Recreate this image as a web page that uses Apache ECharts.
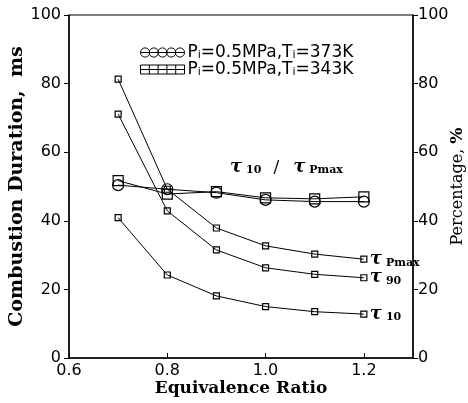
<!DOCTYPE html>
<html>
<head>
<meta charset="utf-8">
<script src="https://cdn.jsdelivr.net/npm/echarts@6/dist/echarts.min.js"></script>
<style>
  html, body { margin: 0; padding: 0; background: #fff; }
  #chart { width: 468px; height: 403px; }
</style>
</head>
<body>
<div id="chart"></div>
<script>
// Equivalence ratios at which the runs were made
const equivRatio = [0.7, 0.8, 0.9, 1.0, 1.1, 1.2];

// Combustion durations, ms (left axis)
const tauPmax = [81.3, 49.2, 37.9, 32.7, 30.3, 28.8];
const tau90   = [71.1, 42.9, 31.5, 26.3, 24.4, 23.4];
const tau10   = [40.9, 24.2, 18.1, 15.0, 13.5, 12.8];

// tau10 / tauPmax, % (right axis)
const ratio373K = [50.4, 49.2, 48.2, 46.1, 45.6, 45.6];
const ratio343K = [51.7, 47.8, 48.5, 46.7, 46.4, 47.0];

// Legend entries
const legend373 = 'P_i=0.5MPa,T_i=373K';
const legend343 = 'P_i=0.5MPa,T_i=343K';

const pairs = vals => equivRatio.map((x, i) => [x, vals[i]]);

const SERIF = '"DejaVu Serif", "Liberation Serif", serif';
const SANS = '"DejaVu Sans", "Liberation Sans", sans-serif';

// Icons for the legend: a row of open circles / boxes strung on a line
const circleRow = (() => {
  const r = 4.6;
  let d = 'M0,5L44,5';
  [4.6, 13.3, 22, 30.7, 39.4].forEach(cx => {
    d += `M${cx - r},5A${r},${r} 0 1 0 ${cx + r},5A${r},${r} 0 1 0 ${cx - r},5Z`;
  });
  return 'path://' + d;
})();
const boxRow = 'path://M0,0.5L44,0.5L44,9.5L0,9.5ZM0,5L44,5M8.8,0.5L8.8,9.5M17.6,0.5L17.6,9.5M26.4,0.5L26.4,9.5M35.2,0.5L35.2,9.5';

const tauRich = {
  t: { fontFamily: SERIF, fontStyle: 'italic', fontWeight: 'bold', fontSize: 18, color: '#000', verticalAlign: 'bottom', lineHeight: 18 },
  s: { fontFamily: SERIF, fontWeight: 'bold', fontSize: 11, color: '#000', verticalAlign: 'bottom', lineHeight: 14, padding: [0, 0, 0, 4] },
  sl: { fontFamily: SERIF, fontSize: 17, color: '#000', verticalAlign: 'bottom', lineHeight: 18, padding: [0, 14, 0, 12] }
};

const durationSeries = (name, vals) => ({
  name,
  type: 'line',
  yAxisIndex: 0,
  data: pairs(vals),
  symbol: 'rect',
  symbolSize: 6,
  lineStyle: { color: '#000', width: 1 },
  itemStyle: { color: 'rgba(0,0,0,0)', borderColor: '#000', borderWidth: 1.2 },
  emphasis: { disabled: true },
  endLabel: {
    show: true,
    distance: 6,
    formatter: name,
    rich: tauRich
  },
  z: 3
});

const ratioSeries = (name, vals, symbol, size) => ({
  name,
  type: 'line',
  yAxisIndex: 1,
  data: pairs(vals),
  symbol,
  symbolSize: size,
  lineStyle: { color: '#000', width: 1 },
  itemStyle: { color: 'rgba(0,0,0,0)', borderColor: '#000', borderWidth: 1.2 },
  emphasis: { disabled: true },
  z: 4
});

const chart = echarts.init(document.getElementById('chart'));
chart.setOption({
  animation: false,
  backgroundColor: '#fff',
  grid: {
    left: 69, right: 55, top: 15, bottom: 45,
    outerBoundsMode: 'none',
    containLabel: false,
    show: true, borderColor: '#000', borderWidth: 1
  },
  legend: {
    orient: 'vertical',
    left: 135,
    top: 39,
    itemWidth: 44,
    itemHeight: 10,
    itemGap: 0,
    selectedMode: false,
    itemStyle: { color: 'rgba(0,0,0,0)', borderColor: '#000', borderWidth: 1 },
    data: [
      { name: legend373, icon: circleRow },
      { name: legend343, icon: boxRow }
    ],
    formatter: n => n.replace(/_i/g, '{sub|i}'),
    textStyle: {
      fontFamily: SANS, fontSize: 17, color: '#000', lineHeight: 16, padding: [0, 0, 0, -2],
      rich: {
        sub: { fontFamily: SANS, fontSize: 11, color: '#000', verticalAlign: 'bottom', lineHeight: 13 }
      }
    }
  },
  xAxis: {
    type: 'value',
    min: 0.6, max: 1.3, interval: 0.2,
    name: 'Equivalence Ratio',
    nameLocation: 'middle',
    nameGap: 22,
    nameMoveOverlap: false,
    nameTextStyle: { fontFamily: SERIF, fontWeight: 'bold', fontSize: 17, color: '#000' },
    axisLine: { lineStyle: { color: '#000', width: 1.5 } },
    axisTick: { inside: true, length: 5, lineStyle: { color: '#000', width: 1 } },
    axisLabel: {
      color: '#000', fontFamily: SANS, fontSize: 16, margin: 5,
      showMaxLabel: false,
      formatter: v => v.toFixed(1)
    },
    splitLine: { show: false }
  },
  yAxis: [
    {
      type: 'value',
      min: 0, max: 100, interval: 20,
      name: 'Combustion Duration,  ms',
      nameLocation: 'middle',
      nameGap: 42,
      nameMoveOverlap: false,
      nameTextStyle: { fontFamily: SERIF, fontWeight: 'bold', fontSize: 19, color: '#000' },
      axisLine: { show: true, lineStyle: { color: '#000', width: 1.5 } },
      axisTick: { show: true, length: 5, lineStyle: { color: '#000', width: 1 } },
      axisLabel: { color: '#000', fontFamily: SANS, fontSize: 16, margin: 8 },
      splitLine: { show: false }
    },
    {
      type: 'value',
      position: 'right',
      min: 0, max: 100, interval: 20,
      name: '{n|Percentage, }{b|%}',
      nameLocation: 'middle',
      nameRotate: 90,
      nameGap: 36,
      nameMoveOverlap: false,
      nameTextStyle: {
        fontFamily: SERIF, fontSize: 16, color: '#000',
        rich: {
          n: { fontFamily: SERIF, fontSize: 16, color: '#000' },
          b: { fontFamily: SERIF, fontSize: 17, fontWeight: 'bold', color: '#000' }
        }
      },
      axisLine: { show: true, lineStyle: { color: '#000', width: 1.5 } },
      axisTick: { show: true, length: 5, lineStyle: { color: '#000', width: 1 } },
      axisLabel: { color: '#000', fontFamily: SANS, fontSize: 16, margin: 5 },
      splitLine: { show: false }
    }
  ],
  graphic: [
    {
      type: 'text',
      left: 230,
      top: 158,
      style: {
        text: '{t|τ}{s|10}{sl|/}{t|τ}{s|Pmax}',
        rich: tauRich
      }
    }
  ],
  series: [
    durationSeries('{t|τ}{s|Pmax}', tauPmax),
    durationSeries('{t|τ}{s|90}', tau90),
    durationSeries('{t|τ}{s|10}', tau10),
    ratioSeries(legend373, ratio373K, 'circle', 11),
    ratioSeries(legend343, ratio343K, 'rect', 10)
  ]
});
</script>
</body>
</html>
